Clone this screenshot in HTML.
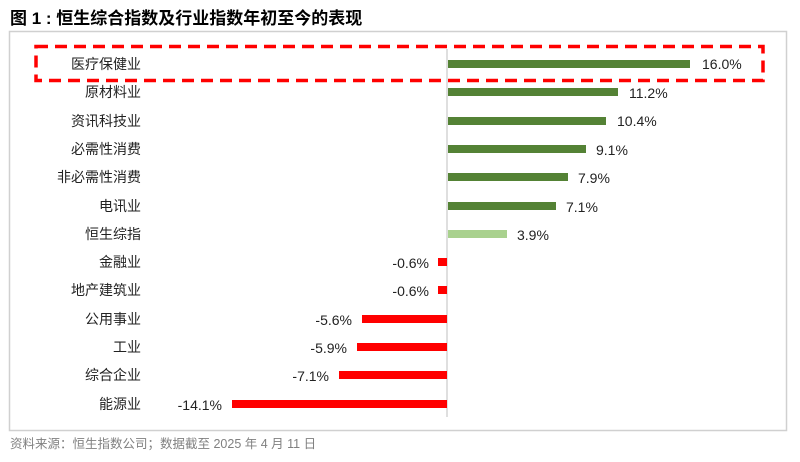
<!DOCTYPE html>
<html><head><meta charset="utf-8"><style>
body{margin:0;width:800px;height:457px;background:#fff;overflow:hidden}
svg text{font-family:"Liberation Sans","Noto Sans CJK SC",sans-serif}
</style></head><body>
<svg width="800" height="457" xmlns="http://www.w3.org/2000/svg">
<text x="10" y="24" font-size="17" font-weight="bold" fill="#000">图 1 : 恒生综合指数及行业指数年初至今的表现</text>
<rect x="9.5" y="31.5" width="777" height="399" fill="#fff" stroke="#d0d0d0" stroke-width="1.5"/>
<line x1="447" y1="49" x2="447" y2="417" stroke="#bfbfbf" stroke-width="1"/>
<rect x="36" y="46.5" width="727" height="34" fill="none" stroke="#ff0000" stroke-width="3.5" stroke-dasharray="12,7"/>
<text x="10" y="448" font-size="12.5" fill="#808080">资料来源：恒生指数公司；数据截至 2025 年 4 月 11 日</text>
<g font-size="14" fill="#222">
<text x="141" y="69" text-anchor="end">医疗保健业</text>
<text x="141" y="97" text-anchor="end">原材料业</text>
<text x="141" y="126" text-anchor="end">资讯科技业</text>
<text x="141" y="154" text-anchor="end">必需性消费</text>
<text x="141" y="182" text-anchor="end">非必需性消费</text>
<text x="141" y="211" text-anchor="end">电讯业</text>
<text x="141" y="239" text-anchor="end">恒生综指</text>
<text x="141" y="267" text-anchor="end">金融业</text>
<text x="141" y="295" text-anchor="end">地产建筑业</text>
<text x="141" y="324" text-anchor="end">公用事业</text>
<text x="141" y="352" text-anchor="end">工业</text>
<text x="141" y="380" text-anchor="end">综合企业</text>
<text x="141" y="409" text-anchor="end">能源业</text>
</g>
<g>
<rect x="448" y="60" width="242" height="8" fill="#548235"/>
<rect x="448" y="88" width="170" height="8" fill="#548235"/>
<rect x="448" y="117" width="158" height="8" fill="#548235"/>
<rect x="448" y="145" width="138" height="8" fill="#548235"/>
<rect x="448" y="173" width="120" height="8" fill="#548235"/>
<rect x="448" y="202" width="108" height="8" fill="#548235"/>
<rect x="448" y="230" width="59" height="8" fill="#a9d18e"/>
<rect x="438" y="258" width="9" height="8" fill="#ff0000"/>
<rect x="438" y="286" width="9" height="8" fill="#ff0000"/>
<rect x="362" y="315" width="85" height="8" fill="#ff0000"/>
<rect x="357" y="343" width="90" height="8" fill="#ff0000"/>
<rect x="339" y="371" width="108" height="8" fill="#ff0000"/>
<rect x="232" y="400" width="215" height="8" fill="#ff0000"/>
</g>
<g font-size="14" fill="#222">
<text x="702" y="69">16.0%</text>
<text x="629" y="98">11.2%</text>
<text x="617" y="126">10.4%</text>
<text x="596" y="155">9.1%</text>
<text x="578" y="183">7.9%</text>
<text x="566" y="212">7.1%</text>
<text x="517" y="240">3.9%</text>
<text x="429" y="268" text-anchor="end">-0.6%</text>
<text x="429" y="296" text-anchor="end">-0.6%</text>
<text x="352" y="325" text-anchor="end">-5.6%</text>
<text x="347" y="353" text-anchor="end">-5.9%</text>
<text x="329" y="381" text-anchor="end">-7.1%</text>
<text x="222" y="410" text-anchor="end">-14.1%</text>
</g>
</svg>
</body></html>
